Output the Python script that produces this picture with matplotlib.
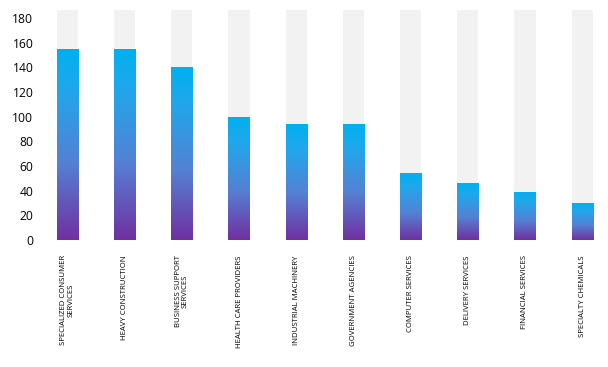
import numpy as np
import matplotlib
matplotlib.use("Agg")
import matplotlib.pyplot as plt
from matplotlib.colors import LinearSegmentedColormap

# Data
categories = [
    "SPECIALIZED CONSUMER\nSERVICES",
    "HEAVY CONSTRUCTION",
    "BUSINESS SUPPORT\nSERVICES",
    "HEALTH CARE PROVIDERS",
    "INDUSTRIAL MACHINERY",
    "GOVERNMENT AGENCIES",
    "COMPUTER SERVICES",
    "DELIVERY SERVICES",
    "FINANCIAL SERVICES",
    "SPECIALTY CHEMICALS",
]
values = [155, 155, 140, 100, 94, 94, 54, 46, 39, 30]
y_ticks = [0, 20, 40, 60, 80, 100, 120, 140, 160, 180]
y_max = 186.5

# Gradient per bar: purple at the bottom, cyan at the top
grad = LinearSegmentedColormap.from_list(
    "bar_grad", [(0.0, "#7030a0"), (0.4, "#5580d4"), (0.8, "#1fa8ec"), (1.0, "#00b0f0")]
)

plt.rcParams["font.family"] = ["Open Sans", "DejaVu Sans"]

fig = plt.figure(figsize=(6.08, 3.67), dpi=100)
ax = fig.add_axes([38.9 / 608, 127 / 367, 569 / 608, 230 / 367])

x = np.arange(len(categories))
width = 0.37

# grey background bars filling the full height
ax.bar(x, [y_max] * len(x), width=width, color="#f2f2f2", zorder=1)

bars = ax.bar(x, values, width=width, color="none", zorder=2)
g = np.linspace(0, 1, 256).reshape(-1, 1)
for b in bars:
    x0 = b.get_x()
    x1 = x0 + b.get_width()
    h = b.get_height()
    im = ax.imshow(g, cmap=grad, origin="lower", aspect="auto",
                   extent=(x0, x1, 0, h), zorder=3, interpolation="bilinear")
    im.set_clip_path(b)

ax.set_xlim(-0.5, 9.45)
ax.set_ylim(0, y_max)
ax.set_yticks(y_ticks)
ax.set_yticklabels([str(t) for t in y_ticks], fontsize=8.7)
ax.set_xticks(x)
ax.set_xticklabels(categories, rotation=90, fontsize=5.6, ha="center",
                   va="top", multialignment="center", linespacing=1.0)
ax.tick_params(axis="both", length=0)
ax.tick_params(axis="x", pad=11)
ax.tick_params(axis="y", pad=4)
for s in ax.spines.values():
    s.set_visible(False)

fig.savefig("out.png", dpi=100)
